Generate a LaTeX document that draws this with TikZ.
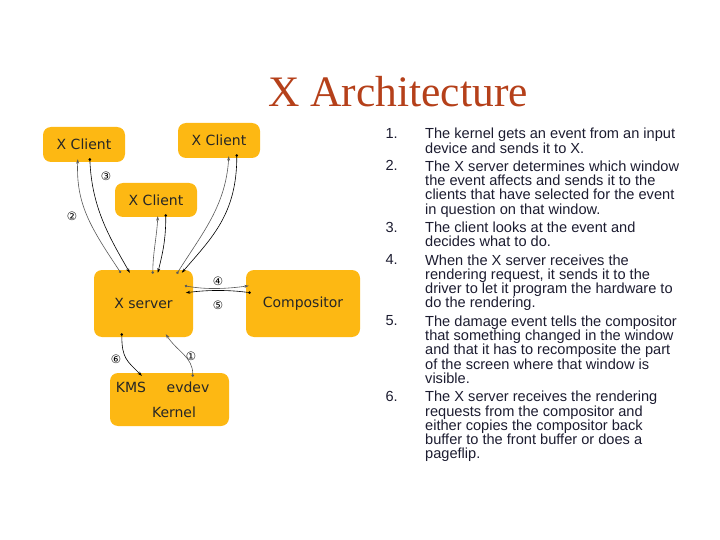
\documentclass[tikz,border=0pt]{standalone}
\usepackage{fontspec}
\setmainfont{Liberation Sans}
\newfontfamily\boxfont{DejaVu Sans}
\newfontfamily\titlefont{Liberation Serif}
\usetikzlibrary{arrows.meta,positioning,calc}
\definecolor{amber}{HTML}{FDB813}
\definecolor{rust}{HTML}{B5401A}
\definecolor{inknavy}{HTML}{1C1C30}
\newcommand\listfont{\fontsize{14.6}{14.3}\selectfont
  \lineskiplimit=-20pt\relax\lineskip=0pt\relax}

\begin{document}
\begin{tikzpicture}[
    x=1pt, y=-1pt,
    box/.style={fill=amber,rounded corners=8pt,inner sep=0pt,text=black!85,
                font=\boxfont\fontsize{14}{16}\selectfont},
    lbl/.style={inner sep=0pt,text=black!85,font=\boxfont\fontsize{14}{16}\selectfont},
    num/.style={font=\boxfont\fontsize{11.5}{12}\selectfont,inner sep=0pt},
    link/.style={line width=0.6pt,{Circle[length=2.6pt]}-{Stealth[length=4.5pt,width=3pt]}},
    glink/.style={link,gray!70!black},
    item/.style={inner sep=0pt,align=left,text=inknavy,font=\listfont},
  ]
  \useasboundingbox (0,0) rectangle (720,540);

  % title
  \node[anchor=base,text=rust,font=\titlefont\fontsize{43.5}{46}\selectfont] (title) at (398,107) {X Architecture};

  % boxes
  \node[box,minimum width=82pt,minimum height=35pt] (cl1) at (84,144.5) {X Client};
  \node[box,minimum width=82pt,minimum height=35pt] (cl2) at (219,140.5) {X Client};
  \node[box,minimum width=82pt,minimum height=34pt] (cl3) at (156,200) {X Client};
  \node[box,minimum width=99pt,minimum height=67pt] (xsrv) at (143.5,303.5) {X server};
  \node[box,minimum width=114pt,minimum height=67pt] (comp) at (303,303.5) {Compositor};
  \node[box,minimum width=119pt,minimum height=53pt] (kern) at (169.5,399.5) {};
  \node[lbl] (kms) at (131,387) {KMS};
  \node[lbl] (evdev) at (188,387) {evdev};
  \node[lbl] (kernlbl) at (174,412) {Kernel};

  % ports on the boxes
  \coordinate (s1) at ($(xsrv.north west)+(27,3)$);
  \coordinate (s2) at ($(xsrv.north west)+(36,3)$);
  \coordinate (s3) at ($(xsrv.north west)+(59,4)$);
  \coordinate (s4) at ($(xsrv.north west)+(64,3)$);
  \coordinate (s5) at ($(xsrv.north west)+(83,4)$);
  \coordinate (s6) at ($(xsrv.north west)+(88,3)$);
  \coordinate (s7) at ($(xsrv.north west)+(91,16)$);
  \coordinate (s8) at ($(xsrv.north west)+(92,23)$);
  \coordinate (s9) at ($(xsrv.south west)+(28,-4)$);
  \coordinate (s10) at ($(xsrv.south west)+(72,-3)$);
  \coordinate (c1a) at ($(cl1.south west)+(35,-3)$);
  \coordinate (c1b) at ($(cl1.south west)+(47,-4)$);
  \coordinate (c3a) at ($(cl3.south west)+(43,-1)$);
  \coordinate (c3b) at ($(cl3.south west)+(51,-3)$);
  \coordinate (c2a) at ($(cl2.south west)+(51,-2)$);
  \coordinate (c2b) at ($(cl2.south west)+(59,-4)$);
  \coordinate (cp1) at ($(comp.north west)+(3,16)$);
  \coordinate (cp2) at ($(comp.north west)+(5,23)$);
  \coordinate (k1) at ($(kern.north west)+(32,3)$);
  \coordinate (k2) at ($(kern.north west)+(83,4)$);

  % connectors
  \draw[glink] (s1) .. controls +(-30,-45) and +(-2,45) .. (c1a);
  \draw[link] (c1b) .. controls +(2,50) and +(-20,-35) .. (s2);
  \draw[glink] (s3) .. controls +(0,-20) and +(-1,20) .. (c3a);
  \draw[link] (c3b) .. controls +(0,25) and +(5,-20) .. (s4);
  \draw[glink] (s5) .. controls +(25,-40) and +(-3,50) .. (c2a);
  \draw[link] (c2b) .. controls +(0,60) and +(30,-35) .. (s6);
  \draw[glink] (s7) .. controls +(22,4) and +(-22,3) .. (cp1);
  \draw[link] (cp2) .. controls +(-22,-3) and +(22,-3) .. (s8);
  \draw[link] (s9) .. controls +(0,25) and +(-15,-15) .. (k1);
  \draw[glink] (k2) .. controls +(0,-20) and +(12,18) .. (s10);

  % step marks
  \node[num] (n3) at (106,176) {③};
  \node[num] (n2) at (72,216) {②};
  \node[num] (n4) at (218,281) {④};
  \node[num] (n5) at (218,305) {⑤};
  \node[num] (n6) at (116,359) {⑥};
  \node[num] (n1) at (191,356) {①};

  % list
  \node[item,anchor=north west] (it1) at (425,128)
    {\strut The kernel gets an event from an input\\ device and sends it to X.\strut};
  \node[item,below=3pt of it1.south west,anchor=north west] (it2)
    {\strut The X server determines which window\\ the event affects and sends it to the\\
     clients that have selected for the event\\ in question on that window.\strut};
  \node[item,below=3pt of it2.south west,anchor=north west] (it3)
    {\strut The client looks at the event and\\ decides what to do.\strut};
  \node[item,below=3pt of it3.south west,anchor=north west] (it4)
    {\strut When the X server receives the\\ rendering request, it sends it to the\\
     driver to let it program the hardware to\\ do the rendering.\strut};
  \node[item,below=3pt of it4.south west,anchor=north west] (it5)
    {\strut The damage event tells the compositor\\ that something changed in the window\\
     and that it has to recomposite the part\\ of the screen where that window is\\ visible.\strut};
  \node[item,below=3pt of it5.south west,anchor=north west] (it6)
    {\strut The X server receives the rendering\\ requests from the compositor and\\
     either copies the compositor back\\ buffer to the front buffer or does a\\ pageflip.\strut};
  \foreach \k in {1,...,6}
    \node[item,left=27pt of it\k.north west,anchor=north east] (nb\k) {\strut\k.};
\end{tikzpicture}
\end{document}
